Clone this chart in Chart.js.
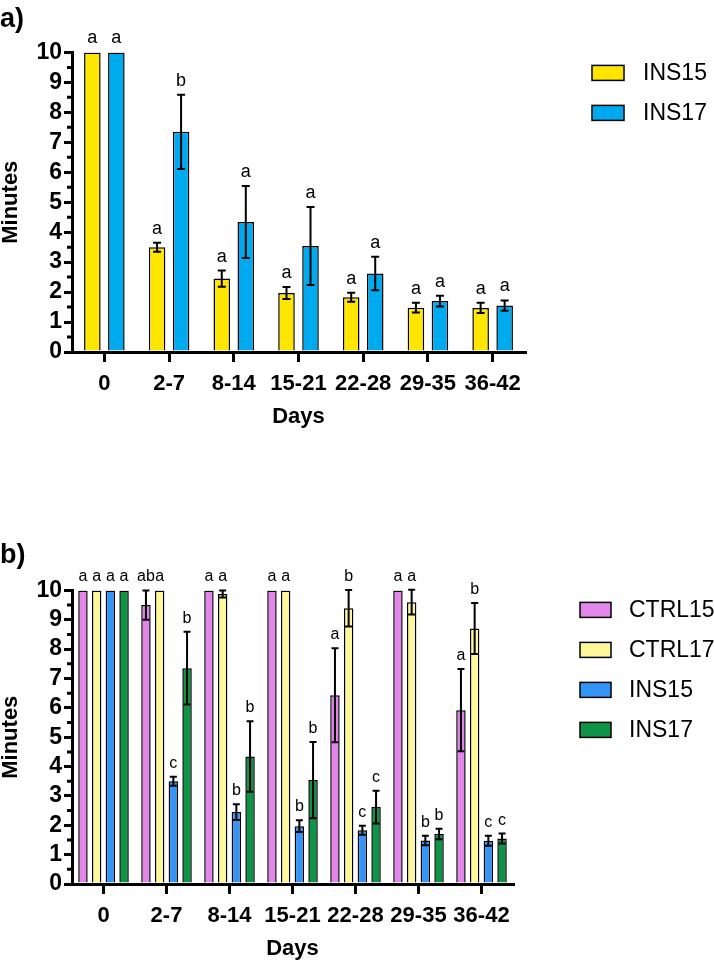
<!DOCTYPE html>
<html>
<head>
<meta charset="utf-8">
<script src="https://cdn.jsdelivr.net/npm/chart.js@4/dist/chart.umd.min.js"></script>
<style>
  body { margin: 0; background: #fff; width: 714px; height: 962px; overflow: hidden; position: relative; }
  canvas { position: absolute; left: 0; }
</style>
</head>
<body>
<canvas id="chartA" width="714" height="480" style="top:0"></canvas>
<canvas id="chartB" width="714" height="482" style="top:480px"></canvas>
<script>
// categories and values (minutes, mean +/- error)
var days = ['0', '2-7', '8-14', '15-21', '22-28', '29-35', '36-42'];

var ctrl15 = [10, 9.5, 10, 10, 6.43, 10, 5.92];
var ctrl15Err = [0, 0.5, 0, 0, 1.6, 0, 1.4];
var ctrl17 = [10, 10, 9.88, 10, 9.39, 9.6, 8.7];
var ctrl17Err = [0, 0, 0.12, 0, 0.62, 0.42, 0.87];
var ins15 = [10, 3.5, 2.45, 1.97, 1.83, 1.48, 1.47];
var ins15Err = [0, 0.15, 0.27, 0.2, 0.15, 0.16, 0.17];
var ins17 = [10, 7.35, 4.34, 3.54, 2.62, 1.7, 1.55];
var ins17Err = [0, 1.24, 1.2, 1.3, 0.56, 0.18, 0.17];

// significance letters
var ins15SigA = ['a', 'a', 'a', 'a', 'a', 'a', 'a'];
var ins17SigA = ['a', 'b', 'a', 'a', 'a', 'a', 'a'];
var ctrl15SigB = ['a', 'ab', 'a', 'a', 'a', 'a', 'a'];
var ctrl17SigB = ['a', 'a', 'a', 'a', 'b', 'a', 'b'];
var ins15SigB = ['a', 'c', 'b', 'b', 'c', 'b', 'c'];
var ins17SigB = ['a', 'b', 'b', 'b', 'c', 'b', 'c'];

var yTicks = [0, 1, 2, 3, 4, 5, 6, 7, 8, 9, 10];

var FONT = "'Liberation Sans', Arial, sans-serif";

// error bars + letters above each bar
var errorBars = {
  id: 'errorBars',
  afterDatasetsDraw: function(chart, args, opts) {
    var ctx = chart.ctx;
    var ys = chart.scales.y;
    chart.data.datasets.forEach(function(ds, i) {
      var meta = chart.getDatasetMeta(i);
      meta.data.forEach(function(bar, j) {
        var v = ds.data[j], e = ds.errors[j];
        var top = bar.y;
        ctx.save();
        if (e > 0) {
          var yHi = ys.getPixelForValue(v + e);
          var yLo = ys.getPixelForValue(v - e);
          ctx.strokeStyle = '#000';
          ctx.lineWidth = opts.lineWidth;
          ctx.beginPath();
          ctx.moveTo(bar.x, yHi); ctx.lineTo(bar.x, yLo);
          ctx.moveTo(bar.x - opts.cap, yHi); ctx.lineTo(bar.x + opts.cap, yHi);
          ctx.moveTo(bar.x - opts.cap, yLo); ctx.lineTo(bar.x + opts.cap, yLo);
          ctx.stroke();
          top = Math.min(top, yHi);
        }
        ctx.fillStyle = '#000';
        ctx.font = opts.font;
        ctx.textAlign = 'center';
        ctx.textBaseline = 'alphabetic';
        ctx.fillText(ds.sig[j], bar.x, top - opts.gap);
        ctx.restore();
      });
    });
  }
};

// half-unit minor ticks on the y axis
var minorTicks = {
  id: 'minorTicks',
  afterDraw: function(chart) {
    var ctx = chart.ctx, ys = chart.scales.y, left = chart.chartArea.left;
    ctx.save();
    ctx.strokeStyle = '#000';
    ctx.lineWidth = 3;
    ctx.beginPath();
    for (var k = 0; k < yTicks.length - 1; k++) {
      var py = ys.getPixelForValue((yTicks[k] + yTicks[k + 1]) / 2);
      ctx.moveTo(left - 5, py);
      ctx.lineTo(left, py);
    }
    ctx.stroke();
    ctx.restore();
  }
};

// legend to the right, top aligned
var sideLegend = {
  id: 'sideLegend',
  afterDraw: function(chart, args, opts) {
    var ctx = chart.ctx, area = chart.chartArea;
    ctx.save();
    chart.data.datasets.forEach(function(ds, i) {
      var bx = area.right + opts.dx, by = area.top + opts.dy + i * opts.step;
      ctx.fillStyle = ds.backgroundColor;
      ctx.fillRect(bx, by, opts.boxW, opts.boxH);
      ctx.strokeStyle = '#000';
      ctx.lineWidth = 1.5;
      ctx.strokeRect(bx, by, opts.boxW, opts.boxH);
      ctx.fillStyle = '#000';
      ctx.font = '23px ' + FONT;
      ctx.textAlign = 'left';
      ctx.textBaseline = 'middle';
      ctx.fillText(ds.label, bx + opts.textDx, by + opts.boxH / 2 + 1);
    });
    ctx.restore();
  }
};

function bars(label, data, errors, sig, color) {
  return {
    label: label, data: data, errors: errors, sig: sig,
    backgroundColor: color, borderColor: '#000', borderWidth: 1.5
  };
}

function makeChart(id, title, datasets, cfg) {
  return new Chart(document.getElementById(id), {
    type: 'bar',
    data: { labels: days, datasets: datasets },
    options: {
      responsive: false,
      animation: false,
      datasets: { bar: { categoryPercentage: cfg.catPct, barPercentage: cfg.barPct } },
      layout: { padding: { left: 0, right: cfg.padRight, top: 0, bottom: cfg.padBottom } },
      plugins: {
        legend: { display: false },
        tooltip: { enabled: false },
        title: {
          display: true, text: title, align: 'start', color: '#000',
          font: { family: FONT, size: 27, weight: 'bold', lineHeight: 1.2 },
          padding: { top: cfg.titleTop, bottom: cfg.titleBottom }
        },
        errorBars: { lineWidth: 2, cap: cfg.cap, gap: 9, font: cfg.sigFont + 'px ' + FONT },
        sideLegend: { dx: 67, dy: cfg.legendDy, step: 40, boxW: cfg.boxW, boxH: 15, textDx: cfg.textDx }
      },
      scales: {
        x: {
          afterFit: function(s) { s.height = cfg.xHeight; },
          border: { color: '#000', width: 3 },
          grid: { offset: false, drawOnChartArea: false, color: '#000', lineWidth: 3, tickLength: 10 },
          ticks: { color: '#000', padding: 9, maxRotation: 0, autoSkip: false,
                   font: { family: FONT, size: 22, weight: 'bold' } },
          title: { display: true, text: 'Days', color: '#000', padding: 0,
                   font: { family: FONT, size: 22, weight: 'bold', lineHeight: 1.2 } }
        },
        y: {
          min: 0, max: 10,
          afterFit: function(s) { s.width = 72; },
          afterBuildTicks: function(s) { s.ticks = yTicks.map(function(v) { return { value: v }; }); },
          border: { color: '#000', width: 3 },
          grid: { drawOnChartArea: false, color: '#000', lineWidth: 3, tickLength: 8 },
          ticks: { color: '#000', padding: 2, autoSkip: false,
                   font: { family: FONT, size: 23, weight: 'bold' } },
          title: { display: true, text: 'Minutes', color: '#000', padding: 0,
                   font: { family: FONT, size: 22, weight: 'bold', lineHeight: 1 } }
        }
      }
    },
    plugins: [errorBars, minorTicks, sideLegend]
  });
}

makeChart('chartA', 'a)', [
  bars('INS15', ins15, ins15Err, ins15SigA, '#FFE600'),
  bars('INS17', ins17, ins17Err, ins17SigA, '#00AAEE')
], { catPct: 0.742, barPct: 0.69, padRight: 189, padBottom: 50, xHeight: 78, sigFont: 18,
     titleTop: 3, titleBottom: 17, cap: 4, legendDy: 13, boxW: 32, textDx: 51 });

makeChart('chartB', 'b)', [
  bars('CTRL15', ctrl15, ctrl15Err, ctrl15SigB, '#E386EA'),
  bars('CTRL17', ctrl17, ctrl17Err, ctrl17SigB, '#FFF89A'),
  bars('INS15', ins15, ins15Err, ins15SigB, '#3395F5'),
  bars('INS17', ins17, ins17Err, ins17SigB, '#0E9447')
], { catPct: 0.87, barPct: 0.69, padRight: 201, padBottom: 0, xHeight: 78, sigFont: 16,
     titleTop: 59, titleBottom: 19, cap: 3.5, legendDy: 12, boxW: 31, textDx: 49 });
</script>
</body>
</html>
